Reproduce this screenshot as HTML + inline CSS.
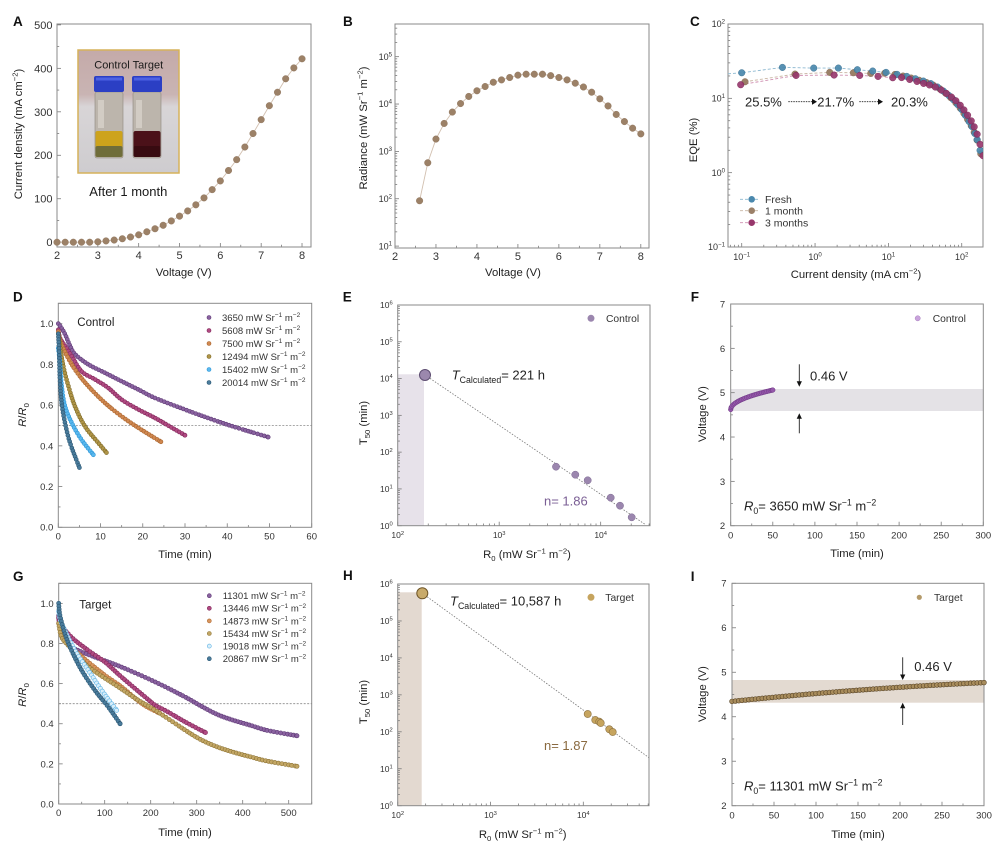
<!DOCTYPE html>
<html><head><meta charset="utf-8">
<style>
html,body{margin:0;padding:0;background:#fff;}
svg{display:block;font-family:"Liberation Sans",Arial,sans-serif;}
</style></head>
<body>
<svg id="s" width="999" height="850" viewBox="0 0 999 850" xmlns="http://www.w3.org/2000/svg"></svg>
<script>
const NS='http://www.w3.org/2000/svg', S=document.getElementById('s');
function E(t,a,p){const e=document.createElementNS(NS,t);for(const k in a)e.setAttribute(k,a[k]);(p||S).appendChild(e);return e;}
function T(x,y,h,a,p){const e=E('text',Object.assign({x:x,y:y,fill:'#222'},a||{}),p);e.innerHTML=h;return e;}
const sup=(s,fs)=>`<tspan dy="-${(fs*.4).toFixed(1)}" font-size="${(fs*.68).toFixed(1)}">${s}</tspan>`;
const bk=(s,fs)=>`<tspan dy="${(fs*.4).toFixed(1)}">${s}</tspan>`;
const sub=(s,fs)=>`<tspan dy="${(fs*.25).toFixed(1)}" font-size="${(fs*.68).toFixed(1)}">${s}</tspan>`;
const bku=(s,fs)=>`<tspan dy="-${(fs*.25).toFixed(1)}">${s}</tspan>`;
const unit=(fs,tail)=>`mW Sr${sup('−1',fs)}${bk(' m',fs)}${sup('−2',fs)}${bk(tail||'&#8203;',fs)}`;
const rng=(a,b,s)=>{const r=[];for(let v=a;v<=b+1e-9;v+=s)r.push(+v.toFixed(6));return r;};
const logMinor=(a,b)=>{const r=[];for(let d=Math.floor(a);d<=b;d++)for(let k=2;k<10;k++){const v=d+Math.log10(k);if(v>a&&v<b)r.push(v);}return r;};
const L=(e,fs)=>`10${sup(e<0?'−'+(-e):String(e),fs)}`;
function mk(c){const p={c};p.X=v=>c.l+(v-c.x[0])/(c.x[1]-c.x[0])*(c.r-c.l);p.Y=v=>c.b-(v-c.y[0])/(c.y[1]-c.y[0])*(c.b-c.t);return p;}
function axes(p,o){
 const c=p.c,g=E('g',{stroke:'#7a7a7a','stroke-width':0.8});
 const tk=(v,len,isx)=>isx?E('line',{x1:p.X(v),x2:p.X(v),y1:c.b,y2:c.b-len},g):E('line',{x1:c.l,x2:c.l+len,y1:p.Y(v),y2:p.Y(v)},g);
 (o.xM||[]).forEach(v=>tk(v,4,1));(o.xm||[]).forEach(v=>tk(v,2.2,1));
 (o.yM||[]).forEach(v=>tk(v,4,0));(o.ym||[]).forEach(v=>tk(v,2.2,0));
 E('rect',{x:c.l,y:c.t,width:c.r-c.l,height:c.b-c.t,fill:'none',stroke:'#8a8a8a','stroke-width':1});
 const fs=o.fs;
 (o.xL||[]).forEach(([v,s])=>T(p.X(v),c.b+o.xd,s,{'font-size':fs,'text-anchor':'middle',fill:'#333'}));
 (o.yL||[]).forEach(([v,s])=>T(c.l-o.yd,p.Y(v)+fs*.36,s,{'font-size':fs,'text-anchor':'end',fill:'#333'}));
}
function yt(cx,cy,h,fs){T(cx,cy,h,{'font-size':fs,'text-anchor':'middle',transform:`rotate(-90 ${cx} ${cy})`});}
function xt(cx,y,h,fs){T(cx,y,h,{'font-size':fs,'text-anchor':'middle'});}
function letter(x,y,s){T(x,y,s,{'font-size':13.5,'font-weight':'bold',fill:'#111'});}
function cr(pts,n){const out=[];for(let i=0;i<pts.length-1;i++){const p0=pts[Math.max(i-1,0)],p1=pts[i],p2=pts[i+1],p3=pts[Math.min(i+2,pts.length-1)];
 for(let k=0;k<n;k++){const t=k/n,t2=t*t,t3=t2*t;out.push([0,1].map(j=>0.5*(2*p1[j]+(-p0[j]+p2[j])*t+(2*p0[j]-5*p1[j]+4*p2[j]-p3[j])*t2+(-p0[j]+3*p1[j]-3*p2[j]+p3[j])*t3)));}}
 out.push(pts[pts.length-1]);return out;}
function resamp(poly,step){const out=[poly[0]];let acc=0;for(let i=1;i<poly.length;i++){acc+=Math.hypot(poly[i][0]-poly[i-1][0],poly[i][1]-poly[i-1][1]);if(acc>=step){out.push(poly[i]);acc=0;}}const l=poly[poly.length-1];if(out[out.length-1]!==l)out.push(l);return out;}
function dots(pts,r,f,s,sw,g){pts.forEach(q=>E('circle',{cx:(+q[0]).toFixed(2),cy:(+q[1]).toFixed(2),r:r,fill:f,stroke:s,'stroke-width':sw||0.6},g));}
function interp(a,x){if(x<=a[0][0])return a[0][1];for(let i=1;i<a.length;i++){if(x<=a[i][0]){const t=(x-a[i-1][0])/(a[i][0]-a[i-1][0]);return a[i-1][1]+t*(a[i][1]-a[i-1][1]);}}return a[a.length-1][1];}
const defs=E('defs',{});
function clip(id,c){const cp=E('clipPath',{id:id},defs);E('rect',{x:c.l,y:c.t,width:c.r-c.l,height:c.b-c.t},cp);}

/* ================= A ================= */
letter(13,26,'A');
const pA=mk({l:57,t:24,r:311,b:247,x:[2,8.22],y:[-11,502]});
axes(pA,{fs:11,xd:12,yd:4.5,xM:rng(2,8,1),xm:rng(2.5,7.5,1),yM:rng(0,500,100),ym:rng(50,450,100),
 xL:rng(2,8,1).map(v=>[v,String(v)]),yL:rng(0,500,100).map(v=>[v,String(v)])});
yt(22,134,`Current density (mA cm${sup('−2',11.3)}${bk(')',11.3)}`,11.3);
xt(183.7,276,'Voltage (V)',11.3);
// inset
const lg=E('linearGradient',{id:'bg',x1:0,y1:0,x2:0,y2:1},defs);
[[0,'#c4aaa9'],[0.36,'#c9b4b3'],[0.46,'#d8d5d7'],[1,'#cecccf']].forEach(([o,c])=>E('stop',{offset:o,'stop-color':c},lg));
E('rect',{x:78,y:50,width:101,height:123,fill:'url(#bg)',stroke:'#d6b25a','stroke-width':1.5});
function vial(x,liq,liq2){
 E('rect',{x:x+1,y:92,width:28,height:66,rx:2,fill:'#bcb5ac',stroke:'#8d877c','stroke-width':0.6});
 E('rect',{x:x+4,y:100,width:6,height:28,fill:'#d2ccc4'});
 E('rect',{x:x+1.5,y:131,width:27,height:26,rx:2,fill:liq});
 E('rect',{x:x+1.5,y:146,width:27,height:11,rx:2,fill:liq2});
 E('rect',{x:x,y:76,width:30,height:16,rx:2,fill:'#2b3fc4'});
 E('rect',{x:x+2,y:77.5,width:26,height:3,fill:'#4d62e3'});
}
vial(94,'#cda31c','#6f6d3a');
vial(132,'#4b1119','#380b11');
T(128.7,68.5,'Control Target',{'font-size':11,'text-anchor':'middle',fill:'#1a1a1a'});
T(89.3,196,'After 1 month',{'font-size':13,fill:'#1a1a1a'});
const Adat=[0,0,0,0,0,1,3,5,8,12,17,24,31,39,49,60,72,86,102,121,141,165,190,219,250,282,314,345,376,401,422];
const Apts=Adat.map((v,i)=>[pA.X(2+0.2*i),pA.Y(v)]);
E('polyline',{points:Apts.map(q=>q.join(',')).join(' '),fill:'none',stroke:'#d2c0b0','stroke-width':0.9});
dots(Apts,3.3,'#9c8167','#8a7058',0.4);

/* ================= B ================= */
letter(343,26,'B');
const pB=mk({l:395,t:24,r:649,b:248,x:[2,8.2],y:[0.96,5.69]});
axes(pB,{fs:11,xd:12,yd:3,xM:rng(2,8,1),xm:rng(2.5,7.5,1),yM:[1,2,3,4,5],ym:logMinor(0.96,5.69),
 xL:rng(2,8,1).map(v=>[v,String(v)])});
[1,2,3,4,5].forEach(e=>T(392,pB.Y(e)+3.2,L(e,9),{'font-size':9,'text-anchor':'end',fill:'#333'}));
yt(367,128,`Radiance (mW Sr${sup('−1',11.3)}${bk(' m',11.3)}${sup('−2',11.3)}${bk(')',11.3)}`,11.3);
xt(513,276,'Voltage (V)',11.3);
const Bdat=[1.958,2.76,3.26,3.59,3.83,4.01,4.16,4.28,4.37,4.46,4.51,4.56,4.61,4.63,4.63,4.63,4.60,4.56,4.51,4.44,4.36,4.25,4.11,3.96,3.78,3.63,3.49,3.37];
const Bpts=Bdat.map((v,i)=>[pB.X(2.6+0.2*i),pB.Y(v)]);
E('polyline',{points:Bpts.map(q=>q.join(',')).join(' '),fill:'none',stroke:'#d2c0b0','stroke-width':0.9});
dots(Bpts,3.3,'#9c8167','#8a7058',0.4);

/* ================= C ================= */
letter(690,26,'C');
const cC={l:728,t:24,r:983,b:247,x:[-1.187,2.29],y:[-1,2]};
const pC=mk(cC);clip('clC',cC);
axes(pC,{fs:9,xd:13,yd:3,xM:[-1,0,1,2],xm:logMinor(-1.187,2.29),yM:[-1,0,1,2],ym:logMinor(-1,2),
 xL:[-1,0,1,2].map(e=>[e,L(e,9)]),yL:[-1,0,1,2].map(e=>[e,L(e,9)])});
yt(697,140,'EQE (%)',11.3);
xt(856,278,`Current density (mA cm${sup('−2',11.3)}${bk(')',11.3)}`,11.3);
const tail=[[0.9,1.35],[1.1,1.326],[1.25,1.295],[1.4,1.255],[1.5,1.225],[1.6,1.19],[1.7,1.135],[1.8,1.06],[1.9,0.97],[2.0,0.85],[2.07,0.74],[2.14,0.62],[2.2,0.48],[2.25,0.3],[2.3,0.1]];
const f=x=>interp(tail,x);
const fresh=[[-1.0,1.344],[-0.445,1.416],[-0.018,1.407],[0.318,1.407],[0.577,1.385],[0.786,1.367],[0.968,1.349]].concat([1.118,1.25,1.368,1.477,1.577,1.668,1.75,1.823,1.886,1.945,2.0,2.05,2.1,2.14,2.18,2.21,2.25].map(x=>[x,f(x)]));
const m1=[[-0.955,1.223],[-0.273,1.326],[0.2,1.349],[0.523,1.344],[0.759,1.335]].concat([0.95,1.09,1.2,1.31,1.42,1.52,1.61,1.7,1.78,1.85,1.92,1.98,2.03,2.08,2.13,2.17,2.21,2.26].map(x=>[x,f(x)-0.006]));
const off=x=>x<1.5?-0.03:(x<1.8?-0.03+(x-1.5)*0.1:(x-1.8)*0.18);
const m3=[[-1.014,1.183],[-0.259,1.308],[0.259,1.313],[0.609,1.308],[0.859,1.295],[1.059,1.277]].concat([1.18,1.29,1.39,1.48,1.56,1.64,1.72,1.79,1.86,1.92,1.98,2.03,2.08,2.13,2.17,2.21,2.25,2.29].map(x=>[x,f(x)+off(x)]));
const gC=E('g',{'clip-path':'url(#clC)'});
function cser(d,lc,fc,sc,ext){const pts=d.map(q=>[pC.X(q[0]),pC.Y(q[1])]);const lp=(ext?[[pC.X(ext[0]),pC.Y(ext[1])]]:[]).concat(pts);
 E('polyline',{points:lp.map(q=>q.join(',')).join(' '),fill:'none',stroke:lc,'stroke-width':0.9,'stroke-dasharray':'3,2'},gC);return pts;}
const Pm1=cser(m1,'#c9b6a4','#9b8068','#7f6650');
const Pf=cser(fresh,'#8cb8d0','#4a88ad','#33698a',[-1.187,1.33]);
const Pm3=cser(m3,'#cf8fb0','#97366b','#762050');
dots(Pm1,3.3,'#9b8068','#7f6650',0.4,gC);
dots(Pf,3.3,'rgba(74,136,173,0.92)','#33698a',0.4,gC);
dots(Pm3,3.3,'rgba(151,54,107,0.9)','#762050',0.4,gC);
// annotation
T(745,106.7,'25.5%',{'font-size':13});
T(817.3,106.7,'21.7%',{'font-size':13});
T(891,106.7,'20.3%',{'font-size':13});
[[788.3,812],[859.3,878]].forEach(([a,b])=>{E('line',{x1:a,x2:b,y1:101.7,y2:101.7,stroke:'#222','stroke-width':0.9,'stroke-dasharray':'1.5,1'});
 E('polygon',{points:`${b},98.7 ${b+5},101.7 ${b},104.7`,fill:'#111'});});
// legend
[['Fresh',199.3,'#8cb8d0','#4a88ad'],['1 month',210.7,'#c9b6a4','#9b8068'],['3 months',222.7,'#cf8fb0','#97366b']].forEach(([s,y,lc,fc])=>{
 E('line',{x1:740,x2:760,y1:y,y2:y,stroke:lc,'stroke-width':0.9,'stroke-dasharray':'3,2'});
 E('circle',{cx:751.7,cy:y,r:3.3,fill:fc});
 T(765,y+3.6,s,{'font-size':10.5,fill:'#333'});});

/* ================= D ================= */
letter(13,301.7,'D');
const pD=mk({l:58.3,t:303.3,r:311.7,b:527.3,x:[0,60],y:[0,1.1]});
axes(pD,{fs:9.5,xd:12,yd:5,xM:rng(0,60,10),xm:rng(5,55,10),yM:rng(0,1,0.2),ym:rng(0.1,1.1,0.2),
 xL:rng(0,60,10).map(v=>[v,String(v)]),yL:rng(0,1,0.2).map(v=>[v,v.toFixed(1)])});
E('line',{x1:58.3,x2:311.7,y1:pD.Y(0.5),y2:pD.Y(0.5),stroke:'#8a8a8a','stroke-width':0.8,'stroke-dasharray':'2,1.5'});
yt(26,415,`<tspan font-style="italic">R</tspan>/<tspan font-style="italic">R</tspan>${sub('0',11.3)}`,11.3);
xt(185,558,'Time (min)',11.3);
T(77.3,326,'Control',{'font-size':11.5});
const Dser=[
 {n:'3650',f:'#8a62a0',s:'#5e3a75',d:[[0,1.0],[0.4,0.99],[1.6,0.948],[2.8,0.89],[4,0.849],[7.1,0.80],[11.1,0.758],[15,0.717],[19,0.676],[22.9,0.635],[30,0.578],[35,0.54],[41.4,0.495],[49.7,0.443]]},
 {n:'5608',f:'#b04a82',s:'#80285a',d:[[0,0.97],[0.4,0.93],[1.6,0.89],[3.2,0.84],[5.5,0.766],[8.7,0.726],[11.8,0.685],[15,0.627],[19,0.578],[22.9,0.537],[26,0.5],[30,0.452]]},
 {n:'7500',f:'#d08850',s:'#a8642e',d:[[0,0.96],[0.4,0.92],[1.6,0.86],[3.95,0.775],[7.1,0.693],[11.1,0.61],[15,0.545],[19,0.488],[24.3,0.42]]},
 {n:'12494',f:'#b09548',s:'#7e6a28',d:[[0,0.95],[0.4,0.89],[1.2,0.79],[2.4,0.693],[3.95,0.594],[6.3,0.496],[9.5,0.414],[11.4,0.367]]},
 {n:'15402',f:'#5ab8ee',s:'#2e96d6',d:[[0,0.88],[0.4,0.81],[0.8,0.693],[1.6,0.594],[3.2,0.512],[5.5,0.43],[8.3,0.356]]},
 {n:'20014',f:'#4a7c9c',s:'#2b5672',d:[[0,0.95],[0.17,0.874],[0.4,0.726],[0.8,0.61],[1.6,0.512],[2.8,0.414],[5,0.293]]}];
Dser.forEach((s,i)=>{const px=s.d.map(q=>[pD.X(q[0]),pD.Y(q[1])]);dots(resamp(cr(px,30),2.8),2,s.f,s.s,0.6);
 const y=317.5+13*i;E('circle',{cx:209,cy:y,r:2,fill:s.f,stroke:s.s,'stroke-width':0.6});
 T(222,y+3.4,s.n+' '+unit(9.5),{'font-size':9.5,fill:'#333'});});

/* ================= E ================= */
letter(342.7,301.7,'E');
const pE=mk({l:397.7,t:305,r:650,b:525.7,x:[2,4.486],y:[0,6]});
E('rect',{x:397.7,y:374.3,width:26.3,height:151.4,fill:'#e7e2ea'});
axes(pE,{fs:8.5,xd:12.5,yd:5,xM:[2,3,4],xm:logMinor(2,4.486),yM:rng(0,6,1),ym:logMinor(0,6),
 xL:[2,3,4].map(e=>[e,L(e,8.5)]),yL:rng(0,6,1).map(e=>[e,L(e,8.5)])});
yt(367,423,`T${sub('50',11.3)}${bku(' (min)',11.3)}`,11.3);
xt(527,558,`R${sub('0',11.3)}${bku(' (',11.3)}${unit(11.3,')')}`,11.3);
E('line',{x1:425,y1:375,x2:645,y2:524.3,stroke:'#777','stroke-width':0.8,'stroke-dasharray':'1.5,1.5'});
dots([[556,466.7],[575.3,474.7],[587.7,480.3],[610.7,497.7],[620,505.7],[631.7,517.3]],3.6,'#9b86ae','#7d6a92',0.5);
E('circle',{cx:425,cy:375,r:5.5,fill:'#9b88ad',stroke:'#5e4e72','stroke-width':1});
T(451.7,379.5,`<tspan font-style="italic">T</tspan>${sub('Calculated',13)}${bku('= 221 h',13)}`,{'font-size':13});
T(544,505.5,'n= 1.86',{'font-size':13,fill:'#7a5e94'});
E('circle',{cx:591,cy:318.3,r:3.5,fill:'#9b86ae'});
T(606,321.8,'Control',{'font-size':10.3,fill:'#333'});

/* ================= F ================= */
letter(690.7,301.7,'F');
const pF=mk({l:730.7,t:304,r:983.3,b:525.7,x:[0,300],y:[2,7]});
E('rect',{x:730.7,y:389,width:252.6,height:22,fill:'#e4e2e6'});
axes(pF,{fs:9.5,xd:12.8,yd:5.5,xM:rng(0,300,50),xm:rng(25,275,50),yM:rng(2,7,1),ym:rng(2.5,6.5,1),
 xL:rng(0,300,50).map(v=>[v,String(v)]),yL:rng(2,7,1).map(v=>[v,String(v)])});
yt(706,414,'Voltage (V)',11.3);
xt(857,557,'Time (min)',11.3);
const Fpx=[];for(let t=0;t<=50;t+=0.25)Fpx.push([pF.X(t),pF.Y(4.62+0.44*Math.sqrt(t/50))]);
dots(resamp(Fpx,1.6),2.3,'#9558aa','#6d3684',0.5);
function arrow(x,y1,y2){const d=y2>y1?1:-1;E('line',{x1:x,x2:x,y1:y1,y2:y2-d*5,stroke:'#222','stroke-width':0.9});
 E('polygon',{points:`${x-2.6},${y2-d*5.5} ${x+2.6},${y2-d*5.5} ${x},${y2}`,fill:'#111'});}
arrow(799.3,364.3,386.7);arrow(799.3,433.3,413.3);
T(810,380.5,'0.46 V',{'font-size':13});
T(744,510.5,`<tspan font-style="italic">R</tspan>${sub('0',13)}${bku('= 3650 ',13)}${unit(13)}`,{'font-size':13});
E('circle',{cx:917.7,cy:318.3,r:2.6,fill:'#c9a3dc',stroke:'#a77cbd','stroke-width':0.5});
T(932.7,321.8,'Control',{'font-size':10.3,fill:'#333'});

/* ================= G ================= */
letter(13,581,'G');
const pG=mk({l:58.7,t:583.3,r:311.7,b:804,x:[0,550],y:[0,1.1]});
axes(pG,{fs:9.5,xd:12,yd:5,xM:rng(0,500,100),xm:rng(50,550,100),yM:rng(0,1,0.2),ym:rng(0.1,1.1,0.2),
 xL:rng(0,500,100).map(v=>[v,String(v)]),yL:rng(0,1,0.2).map(v=>[v,v.toFixed(1)])});
E('line',{x1:58.7,x2:311.7,y1:pG.Y(0.5),y2:pG.Y(0.5),stroke:'#8a8a8a','stroke-width':0.8,'stroke-dasharray':'2,1.5'});
yt(26,695,`<tspan font-style="italic">R</tspan>/<tspan font-style="italic">R</tspan>${sub('0',11.3)}`,11.3);
xt(185,836,'Time (min)',11.3);
T(79.3,608.5,'Target',{'font-size':11.5});
const Gser=[
 {n:'11301',f:'#8a62a0',s:'#5e3a75',d:[[0,0.93],[3,0.898],[21,0.798],[42.7,0.765],[79,0.732],[137,0.682],[210,0.608],[275,0.533],[308,0.49],[344,0.447],[380,0.417],[417,0.392],[453,0.367],[518,0.34]]},
 {n:'13446',f:'#b04a82',s:'#80285a',d:[[0,0.94],[3,0.9],[28,0.831],[64.5,0.765],[100.8,0.707],[137,0.632],[188,0.533],[210,0.492],[235,0.462],[275,0.409],[319,0.356]]},
 {n:'14873',f:'#d8955e',s:'#b06e38',d:[[0,0.9],[3,0.89],[13.7,0.815],[35.5,0.765],[64.5,0.707],[100.8,0.641],[137,0.583],[181,0.5],[217,0.455]]},
 {n:'15434',f:'#c2a664',s:'#8e7436',d:[[0,0.9],[6.5,0.831],[25,0.78],[57,0.699],[86,0.649],[130,0.583],[173,0.517],[210,0.467],[275,0.368],[308,0.322],[344,0.285],[380,0.258],[417,0.235],[453,0.214],[518,0.188]]},
 {n:'19018',f:'#d8eefa',s:'#5cb2e4',d:[[0,0.96],[3,0.92],[13.7,0.864],[35.5,0.765],[64.5,0.666],[93.6,0.566],[126,0.467]]},
 {n:'20867',f:'#4a7c9c',s:'#2b5672',d:[[0,1.0],[2.8,0.939],[13.7,0.848],[28,0.765],[50,0.666],[79,0.566],[108,0.483],[133.5,0.40]]}];
Gser.forEach((s,i)=>{const px=s.d.map(q=>[pG.X(q[0]),pG.Y(q[1])]);dots(resamp(cr(px,30),2.8),2.1,s.f,s.s,0.6);
 const y=595.7+12.6*i;E('circle',{cx:209.3,cy:y,r:2,fill:s.f,stroke:s.s,'stroke-width':0.6});
 T(222.7,y+3.4,s.n+' '+unit(9.5),{'font-size':9.5,fill:'#333'});});

/* ================= H ================= */
letter(343,580,'H');
const pH=mk({l:397.7,t:584,r:649,b:805.7,x:[2,4.708],y:[0,6]});
E('rect',{x:397.7,y:592.3,width:24,height:213.4,fill:'#e3d9d0'});
axes(pH,{fs:8.5,xd:12.5,yd:5,xM:[2,3,4],xm:logMinor(2,4.708),yM:rng(0,6,1),ym:logMinor(0,6),
 xL:[2,3,4].map(e=>[e,L(e,8.5)]),yL:rng(0,6,1).map(e=>[e,L(e,8.5)])});
yt(367,702,`T${sub('50',11.3)}${bku(' (min)',11.3)}`,11.3);
xt(522.7,838,`R${sub('0',11.3)}${bku(' (',11.3)}${unit(11.3,')')}`,11.3);
E('line',{x1:422.3,y1:593.3,x2:649,y2:757.7,stroke:'#777','stroke-width':0.8,'stroke-dasharray':'1.5,1.5'});
dots([[587.7,714],[595.3,720],[599.3,721.7],[600.7,723],[609.3,729.3],[612.7,732]],3.6,'#c6a45e','#8a7040',0.6);
E('circle',{cx:422.3,cy:593.3,r:5.5,fill:'#c8aa6a',stroke:'#6e5528','stroke-width':1});
T(450,605.5,`<tspan font-style="italic">T</tspan>${sub('Calculated',13)}${bku('= 10,587 h',13)}`,{'font-size':13});
T(544,750,'n= 1.87',{'font-size':13,fill:'#8a6a40'});
E('circle',{cx:591,cy:597.3,r:3.5,fill:'#c6a45e'});
T(605.3,601,'Target',{'font-size':10.3,fill:'#333'});

/* ================= I ================= */
letter(690.7,581,'I');
const pI=mk({l:732,t:583.3,r:984,b:805.7,x:[0,300],y:[2,7]});
E('rect',{x:732,y:680,width:252,height:22.7,fill:'#e3dad1'});
axes(pI,{fs:9.5,xd:12.8,yd:5.5,xM:rng(0,300,50),xm:rng(25,275,50),yM:rng(2,7,1),ym:rng(2.5,6.5,1),
 xL:rng(0,300,50).map(v=>[v,String(v)]),yL:rng(2,7,1).map(v=>[v,String(v)])});
yt(706,694,'Voltage (V)',11.3);
xt(858,838,'Time (min)',11.3);
const Ipx=[];for(let t=0;t<=300;t+=1){const x=t/100;Ipx.push([pI.X(t),pI.Y(4.345+0.195*x-0.018*x*x)]);}
dots(resamp(Ipx,2.9),2.4,'#a88c5c','#5a4628',0.6);
arrow(902.7,657.3,680);arrow(902.7,725,702.7);
T(914.3,671,'0.46 V',{'font-size':13});
T(744,790.5,`<tspan font-style="italic">R</tspan>${sub('0',13)}${bku('= 11301 ',13)}${unit(13)}`,{'font-size':13});
E('circle',{cx:919.3,cy:597.3,r:2.6,fill:'#b49a6a'});
T(934,601,'Target',{'font-size':10.3,fill:'#333'});
</script>
</body></html>
